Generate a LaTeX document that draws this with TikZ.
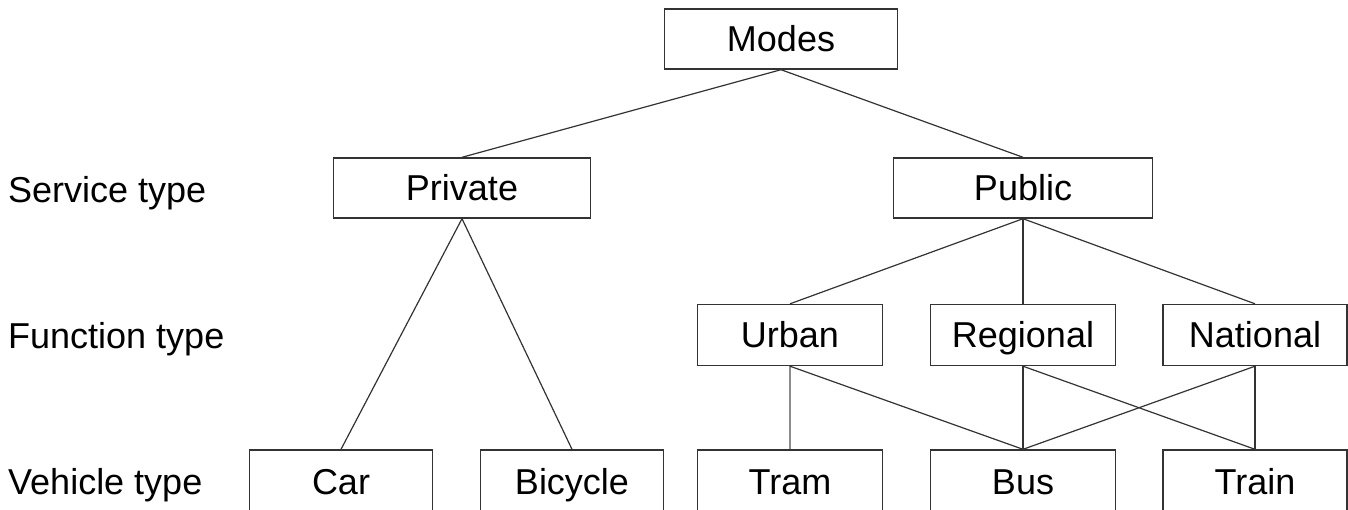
\documentclass[tikz,border=0pt]{standalone}
\usepackage{fontspec}
\setmainfont{Liberation Sans}
\begin{document}
\begin{tikzpicture}[x=1pt,y=-1pt,
  box/.style={draw=black!80, line width=1.4pt, fill=white, inner sep=0pt,
    minimum height=60pt, text height=25pt, text depth=0pt,
    font=\fontsize{36}{40}\selectfont},
  link/.style={draw=black!80, line width=1.2pt},
  faint/.style={draw=black!45, line width=1.2pt},
  rowlabel/.style={anchor=west, inner sep=0pt, text height=25pt, text depth=0pt,
    font=\fontsize{36}{40}\selectfont}]
\clip (0,0) rectangle (1348,509);
\fill[white] (0,0) rectangle (1348,509);

% level labels
\node[rowlabel] (lservice)  at (8,190) {Service type};
\node[rowlabel] (lfunction) at (8,336) {Function type};
\node[rowlabel] (lvehicle)  at (8,482) {Vehicle type};

% boxes
\node[box, minimum width=233pt] (modes) at (781,39) {Modes};
\node[box, minimum width=257pt] (private) at (462,188) {Private};
\node[box, minimum width=259pt] (public) at (1023,188) {Public};
\node[box, minimum width=185pt, minimum height=61pt] (urban) at (790,335) {Urban};
\node[box, minimum width=185pt, minimum height=61pt] (regional) at (1023,335) {Regional};
\node[box, minimum width=184pt, minimum height=61pt] (national) at (1255,335) {National};
\node[box, minimum width=183pt, minimum height=64pt] (car) at (341,482) {Car};
\node[box, minimum width=183pt, minimum height=64pt] (bicycle) at (572,482) {Bicycle};
\node[box, minimum width=185pt, minimum height=64pt] (tram) at (790,482) {Tram};
\node[box, minimum width=185pt, minimum height=64pt] (bus) at (1023,482) {Bus};
\node[box, minimum width=184pt, minimum height=64pt] (train) at (1255,482) {Train};

% connectors
\draw[link] (modes.south) -- (private.north);
\draw[link] (modes.south) -- (public.north);
\draw[link] (private.south) -- (car.north);
\draw[link] (private.south) -- (bicycle.north);
\draw[link] (public.south) -- (urban.north);
\draw[link] (public.south) -- (regional.north);
\draw[link] (public.south) -- (national.north);
\draw[faint] (urban.south) -- (tram.north);
\draw[link] (urban.south) -- (bus.north);
\draw[link] (regional.south) -- (bus.north);
\draw[link] (regional.south) -- (train.north);
\draw[link] (national.south) -- (bus.north);
\draw[link] (national.south) -- (train.north);
\end{tikzpicture}
\end{document}
